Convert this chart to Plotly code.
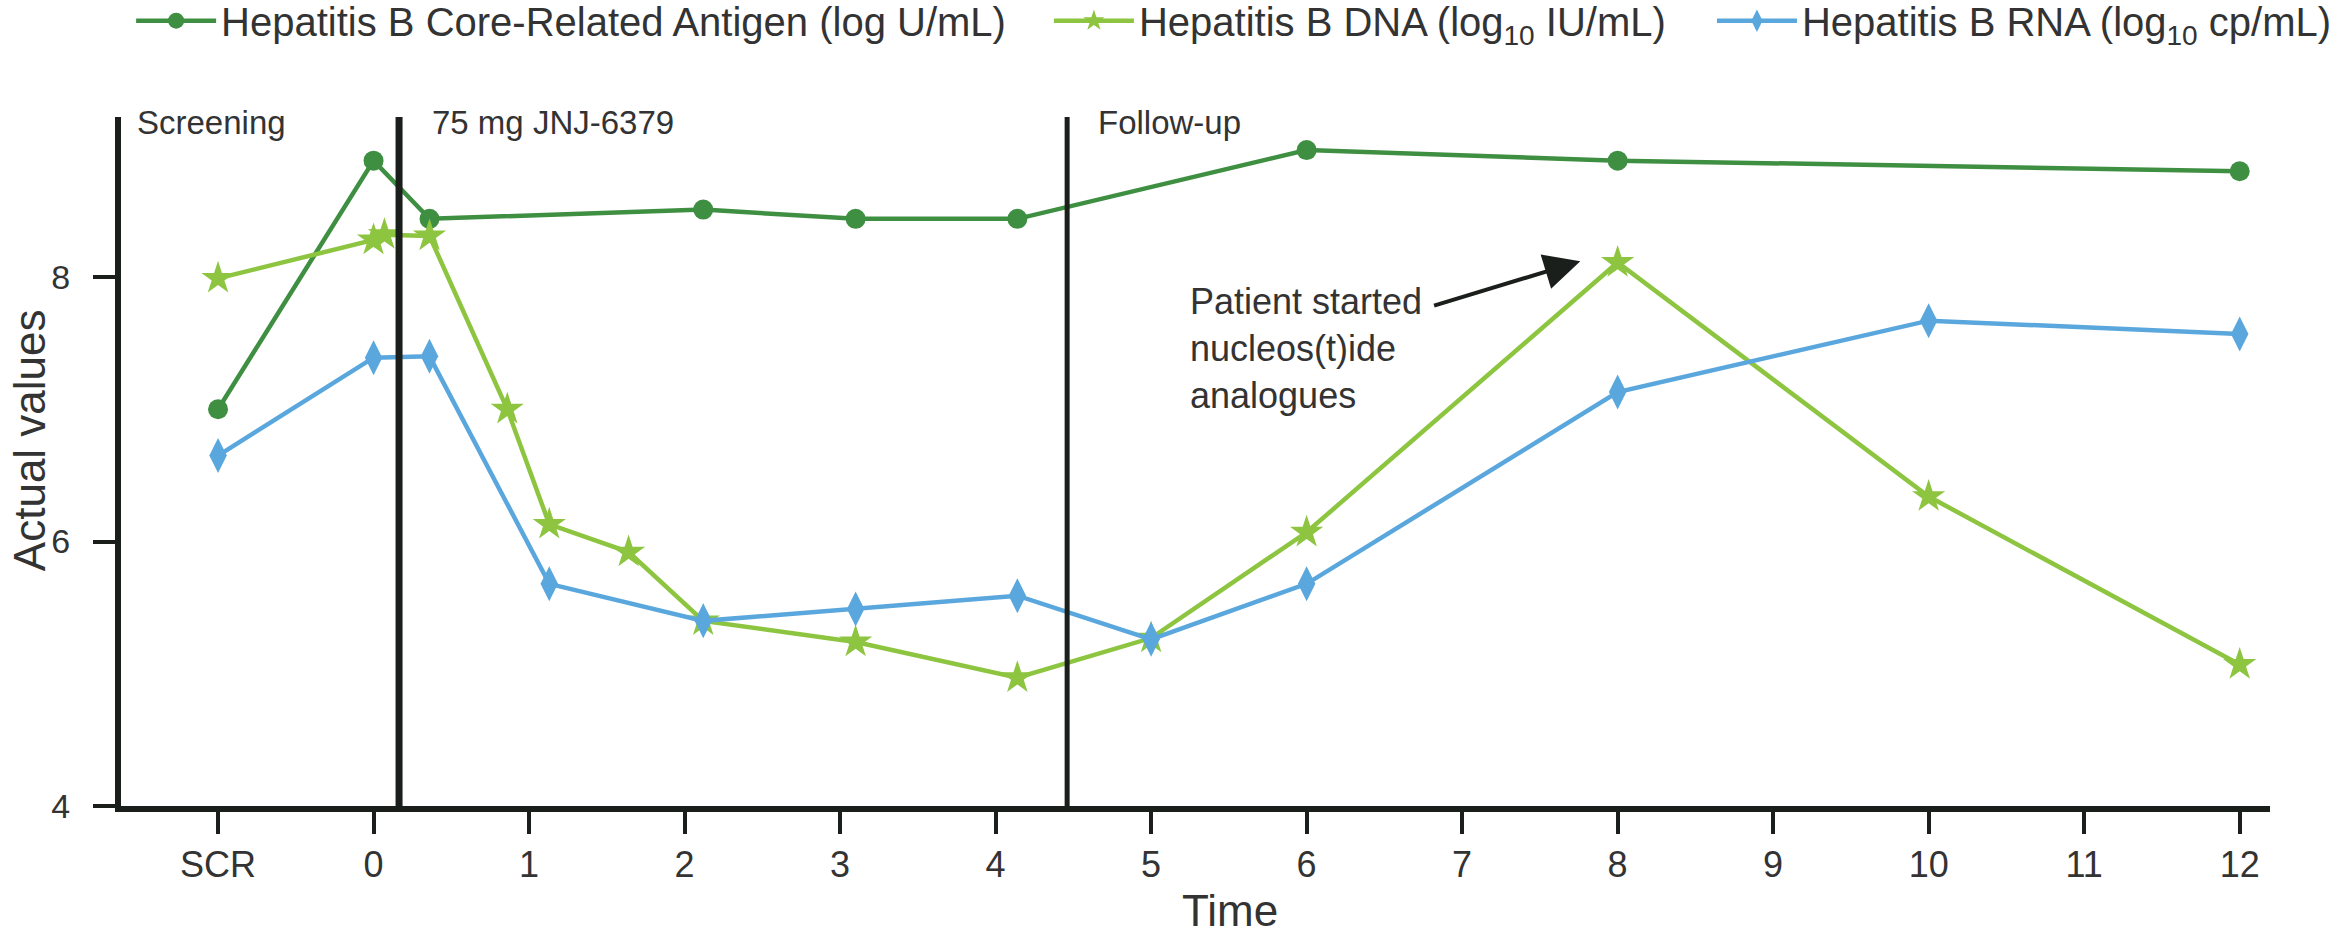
import plotly.graph_objects as go

# ---------------- data ----------------
tick_vals = [-1, 0, 1, 2, 3, 4, 5, 6, 7, 8, 9, 10, 11, 12]
tick_text = ["SCR", "0", "1", "2", "3", "4", "5", "6", "7", "8", "9", "10", "11", "12"]
y_tick_vals = [4, 6, 8]
y_tick_text = ["4", "6", "8"]

core_x = [-1, 0, 0.36, 2.12, 3.1, 4.14, 6, 8, 12]
core_y = [7.00, 8.88, 8.44, 8.51, 8.44, 8.44, 8.96, 8.88, 8.80]

dna_x = [-1, 0, 0.07, 0.36, 0.86, 1.13, 1.64, 2.12, 3.1, 4.14, 5, 6, 8, 10, 12]
dna_y = [7.99, 8.28, 8.32, 8.31, 7.00, 6.13, 5.92, 5.40, 5.24, 4.97, 5.27, 6.07, 8.11, 6.34, 5.07]

rna_x = [-1, 0, 0.36, 1.13, 2.12, 3.1, 4.14, 5, 6, 8, 10, 12]
rna_y = [6.65, 7.39, 7.40, 5.68, 5.40, 5.49, 5.59, 5.26, 5.68, 7.13, 7.67, 7.57]

series_names = [
    "Hepatitis B Core-Related Antigen (log U/mL)",
    "Hepatitis B DNA (log<sub>10</sub> IU/mL)",
    "Hepatitis B RNA (log<sub>10</sub> cp/mL)",
]

x_title = "Time"
y_title = "Actual values"
phase_labels = ["Screening", "75 mg JNJ-6379", "Follow-up"]
phase_lines = [0.164, 4.46]
note_text = "Patient started<br>nucleos(t)ide<br>analogues"

# ---------------- style ----------------
C_CORE = "#3f8f42"
C_DNA = "#8dc540"
C_RNA = "#5aa7de"
C_AX = "#1b1f1c"
C_TXT = "#333333"
FONT = "Liberation Sans, Arial, sans-serif"

legend_x = [0.0562, 0.4496, 0.7338]
label_x = [-1.534, 0.363, 4.645]

fig = go.Figure()
fig.add_trace(go.Scatter(
    x=core_x, y=core_y, name=series_names[0], mode="lines+markers",
    line=dict(color=C_CORE, width=4.5),
    marker=dict(symbol="circle", size=20, color=C_CORE),
    legend="legend",
))
fig.add_trace(go.Scatter(
    x=dna_x, y=dna_y, name=series_names[1], mode="lines+markers",
    line=dict(color=C_DNA, width=4.5),
    marker=dict(symbol="star", size=25, color=C_DNA),
    legend="legend2",
))
fig.add_trace(go.Scatter(
    x=rna_x, y=rna_y, name=series_names[2], mode="lines+markers",
    line=dict(color=C_RNA, width=4.5),
    marker=dict(symbol="diamond-tall", size=25, color=C_RNA),
    legend="legend3",
))

shapes = []
for xv, w in zip(phase_lines, [7, 5]):
    shapes.append(dict(type="line", xref="x", yref="paper", x0=xv, x1=xv, y0=0, y1=1,
                       line=dict(color=C_AX, width=w), layer="above"))

annotations = []
for lab, xv in zip(phase_labels, label_x):
    annotations.append(dict(
        x=xv, y=9.17, xref="x", yref="y", text=lab, showarrow=False,
        xanchor="left", yanchor="middle", font=dict(size=33, color=C_TXT, family=FONT),
    ))
annotations.append(dict(
    x=5.236, y=7.46, xref="x", yref="y", text=note_text, showarrow=False,
    xanchor="left", yanchor="middle", align="left",
    font=dict(size=36, color=C_TXT, family=FONT),
))
annotations.append(dict(
    x=7.76, y=8.12, ax=6.81, ay=7.78, xref="x", yref="y", axref="x", ayref="y",
    text="", showarrow=True, arrowhead=2, arrowsize=1.8, arrowwidth=4, arrowcolor=C_AX,
))
# axis titles
annotations.append(dict(
    x=0.516, y=-0.152, xref="paper", yref="paper", text=x_title, showarrow=False,
    xanchor="center", yanchor="middle", borderpad=0,
    font=dict(size=44, color=C_TXT, family=FONT),
))
annotations.append(dict(
    x=-0.0428, y=0.531, xref="paper", yref="paper", text=y_title, showarrow=False,
    textangle=-90, xanchor="center", yanchor="middle", borderpad=0,
    font=dict(size=44, color=C_TXT, family=FONT),
))


def leg(xpos):
    return dict(
        orientation="h", x=xpos, y=0.978, xref="container", yref="container",
        xanchor="left", yanchor="middle",
        font=dict(size=40, color=C_TXT, family=FONT), itemwidth=80,
        bgcolor="rgba(0,0,0,0)",
    )


fig.update_layout(
    width=2333, height=940,
    margin=dict(l=121, r=63, t=117, b=134, autoexpand=False),
    paper_bgcolor="white", plot_bgcolor="white",
    font=dict(family=FONT, color=C_TXT, size=36),
    showlegend=True,
    legend=leg(legend_x[0]),
    legend2=leg(legend_x[1]),
    legend3=leg(legend_x[2]),
    shapes=shapes,
    annotations=annotations,
    xaxis=dict(
        range=[-1.624, 12.195], tickmode="array", tickvals=tick_vals, ticktext=tick_text,
        showgrid=False, zeroline=False, showline=True, linecolor=C_AX, linewidth=6,
        ticks="outside", ticklen=22, tickwidth=4, tickcolor=C_AX,
        tickfont=dict(size=36, color=C_TXT, family=FONT),
        automargin=False,
    ),
    yaxis=dict(
        range=[4, 9.21], tickmode="array", tickvals=y_tick_vals, ticktext=y_tick_text,
        ticklabelstandoff=16,
        showgrid=False, zeroline=False, showline=True, linecolor=C_AX, linewidth=6,
        ticks="outside", ticklen=22, tickwidth=4, tickcolor=C_AX,
        tickfont=dict(size=34, color=C_TXT, family=FONT),
        automargin=False,
    ),
)

fig.write_html("out.html")
